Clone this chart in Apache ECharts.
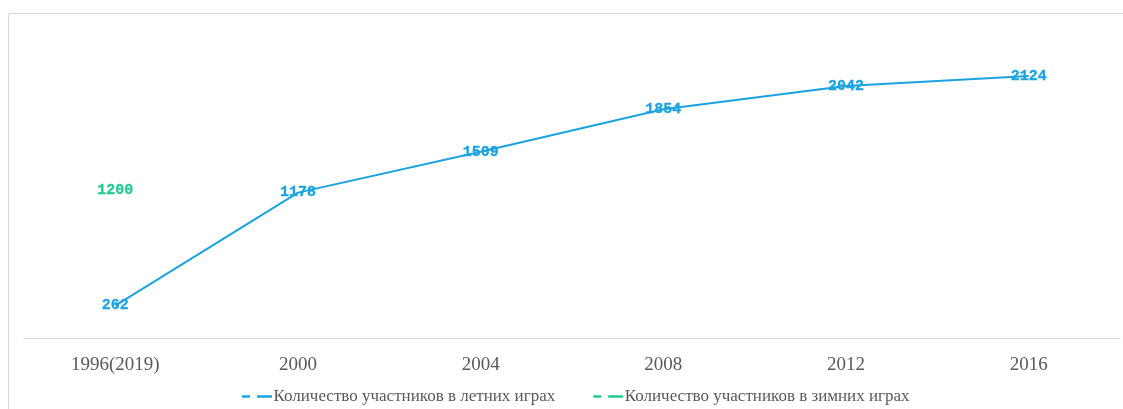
<!DOCTYPE html>
<html><head><meta charset="utf-8">
<script src="https://cdn.jsdelivr.net/npm/echarts@6/dist/echarts.min.js"></script>
<style>html,body{margin:0;padding:0;background:#fff;}#c{width:1123px;height:409px;}</style>
</head><body><div id="c"></div>
<script>
const categories = ['1996(2019)', '2000', '2004', '2008', '2012', '2016'];
const summerName = 'Количество участников в летних играх';
const winterName = 'Количество участников в зимних играх';
const summerValues = [262, 1178, 1509, 1854, 2042, 2124];
const winterValues = [1200, null, null, null, null, null];

const blue = '#1aa3df';
const green = '#1fcb8f';
const labelFont = { fontFamily: 'Liberation Mono', fontWeight: 'bold', fontSize: 15 };
const dashIcon = 'path://M0,0h8v2.5h-8z M15,0h15v2.5h-15z';

const chart = echarts.init(document.getElementById('c'));
chart.setOption({
  animation: false,
  graphic: [{ type: 'rect', shape: { x: 8.5, y: 13.5, width: 1300, height: 600 }, style: { fill: 'none', stroke: '#d9d9d9', lineWidth: 1 }, silent: true }],
  grid: { left: 24, right: 3, top: 29.5, bottom: 71 },
  legend: {
    top: 383, left: 237, itemGap: 38, itemWidth: 31, itemHeight: 2.5,
    textStyle: { fontFamily: 'Liberation Serif', fontSize: 17, color: '#595959', padding: [0, 0, 0, -4] },
    data: [{ name: summerName, icon: dashIcon }, { name: winterName, icon: dashIcon }]
  },
  xAxis: {
    type: 'category', data: categories, boundaryGap: true,
    axisLine: { lineStyle: { color: '#d9d9d9' } }, axisTick: { show: false },
    axisLabel: { fontFamily: 'Liberation Serif', fontSize: 19, color: '#595959', margin: 18 }
  },
  yAxis: { type: 'value', min: 0, max: 2500, show: false, splitLine: { show: false } },
  series: [
    { name: summerName, type: 'line', data: summerValues, color: blue, symbol: 'circle', symbolSize: 0.1,
      lineStyle: { color: blue, width: 2 },
      label: { show: true, position: 'inside', color: blue, textBorderColor: blue, textBorderWidth: 0.3, ...labelFont } },
    { name: winterName, type: 'line', data: winterValues, color: green, symbol: 'circle', symbolSize: 0.1,
      lineStyle: { color: green, width: 2 },
      label: { show: true, position: 'inside', color: green, textBorderColor: green, textBorderWidth: 0.3, ...labelFont } }
  ]
});
</script></body></html>
